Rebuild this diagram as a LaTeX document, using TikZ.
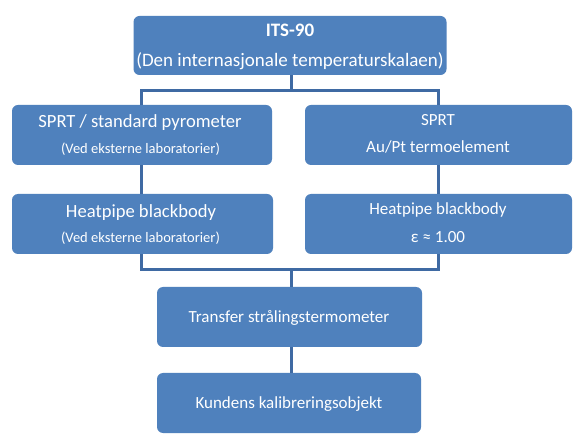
\documentclass[tikz,border=0pt]{standalone}
\usepackage{fontspec}
\setmainfont{Carlito}
\definecolor{boxblue}{HTML}{4F81BD}
\definecolor{lineblue}{HTML}{3F6AA3}
\tikzset{
  box/.style={fill=boxblue, draw=none, rounded corners=6pt, inner sep=0pt},
  txt/.style={text=white, anchor=base, inner sep=0pt},
  conn/.style={draw=lineblue, line width=3pt},
}
\begin{document}
\begin{tikzpicture}[x=1pt,y=-1pt]
\useasboundingbox[fill=white] (0,0) rectangle (584,446);
% boxes
\node[box, minimum width=313pt, minimum height=59pt] (its) at (290,45.5) {};
\node[box, minimum width=260pt, minimum height=60pt] (l1) at (142,135) {};
\node[box, minimum width=261pt, minimum height=60pt] (l2) at (142.5,224) {};
\node[box, minimum width=267pt, minimum height=60pt] (r1) at (438.5,135) {};
\node[box, minimum width=267pt, minimum height=60pt] (r2) at (438.5,224) {};
\node[box, minimum width=265pt, minimum height=60pt] (tr) at (289.5,317) {};
\node[box, minimum width=264pt, minimum height=60pt] (ku) at (289,403) {};
% texts
\node[txt, font=\fontsize{19}{22}\selectfont\bfseries] (t1) at (290,37) {ITS-90};
\node[txt, font=\fontsize{19}{22}\selectfont] (t2) at (290,67) {(Den internasjonale temperaturskalaen)};
\node[txt, font=\fontsize{18.6}{22}\selectfont] (t3) at (140,128) {SPRT / standard pyrometer};
\node[txt, font=\fontsize{14.5}{17}\selectfont] (t4) at (140.5,154) {(Ved eksterne laboratorier)};
\node[txt, font=\fontsize{18.6}{22}\selectfont] (t5) at (141,218) {Heatpipe blackbody};
\node[txt, font=\fontsize{14.5}{17}\selectfont] (t6) at (140.5,243) {(Ved eksterne laboratorier)};
\node[txt, font=\fontsize{17}{20}\selectfont] (t7) at (438,126) {SPRT};
\node[txt, font=\fontsize{17}{20}\selectfont] (t8) at (438,153) {Au/Pt termoelement};
\node[txt, font=\fontsize{17}{20}\selectfont] (t9) at (438,215) {Heatpipe blackbody};
\node[txt, font=\fontsize{17}{20}\selectfont] (t10) at (438,243) {ε ≈ 1.00};
\node[txt, font=\fontsize{17}{20}\selectfont] (t11) at (289,323) {Transfer strålingstermometer};
\node[txt, font=\fontsize{17}{20}\selectfont] (t12) at (289,408) {Kundens kalibreringsobjekt};
% connectors
\coordinate (tj) at (291.5,90.5);
\coordinate (bj) at (291.5,270);
\draw[conn] (its.south -| tj) -- (tj);
\draw[conn] (l1.north -| 141.7,0) |- (tj) -| (r1.north -| 438.5,0);
\draw[conn] (l1.south -| 141.7,0) -- (l2.north -| 141.7,0);
\draw[conn] (r1.south) -- (r2.north);
\draw[conn] (l2.south -| 141.7,0) |- (bj) -| (r2.south);
\draw[conn] (bj) -- (tr.north -| bj);
\draw[conn] (tr.south -| bj) -- (ku.north -| bj);
\end{tikzpicture}
\end{document}
